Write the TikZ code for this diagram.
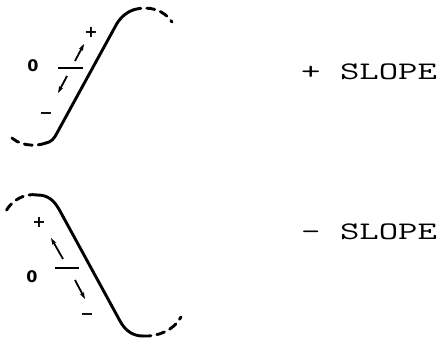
\documentclass[tikz,border=0pt]{standalone}
\usepackage{fontspec}
\usepackage{graphicx}
\usetikzlibrary{arrows.meta}
\newfontfamily\labfont{DejaVu Sans}
\newcommand{\slopetext}[1]{\scalebox{1.57}[1.05]{\ttfamily\fontsize{24}{28}\selectfont #1}}
\begin{document}
\begin{tikzpicture}[x=1pt,y=-1pt,
  solidcurve/.style={line width=2.9pt,line cap=round},
  dashcurve/.style={line width=2.9pt,dash pattern=on 8pt off 6pt,line cap=round},
  zeroline/.style={line width=2pt},
  sarrow/.style={line width=1.8pt,-{Stealth[length=7pt,width=4.5pt]}},
  lab/.style={inner sep=0pt,font=\labfont\bfseries\fontsize{16}{18}\selectfont},
  slope/.style={inner sep=0pt,anchor=base west}]
\path[use as bounding box] (0,0) rectangle (439,347);
% ---- top figure (+ slope)
\draw[dashcurve] (46,143) .. controls (35,147) and (18,146) .. (9,135);
\draw[solidcurve] (46,143) .. controls (51,142) and (54,139) .. (57,133) -- (115,27) .. controls (119,19) and (125,13) .. (133,10);
\draw[dashcurve] (133,10) .. controls (149,5) and (164,10) .. (172,22);
\node[lab] (z1) at (33,66) {0};
\node[lab] (p1) at (91,32) {+};
\node[lab] (m1) at (46,116) {−};
\coordinate (zl1) at (58,68);
\coordinate (zr1) at (83,68);
\draw[zeroline] (zl1) -- (zr1);
\coordinate (ua1) at (75,61);
\coordinate (ub1) at (84,44);
\coordinate (la1) at (67,76);
\coordinate (lb1) at (58,93);
\draw[sarrow] (ua1) -- (ub1);
\draw[sarrow] (la1) -- (lb1);
\node[slope] (t1) at (301,80) {\slopetext{+ SLOPE}};
% ---- bottom figure (- slope)
\draw[dashcurve] (37,195) .. controls (25,193) and (12,200) .. (6,211);
\draw[solidcurve] (37,195) .. controls (48,195) and (54,200) .. (60,211) -- (120,321) .. controls (126,332) and (134,336) .. (143,336);
\draw[dashcurve] (143,336) .. controls (158,337) and (174,330) .. (181,317);
\node[lab] (p2) at (39,222) {+};
\node[lab] (z2) at (32,277) {0};
\node[lab] (m2) at (87,317) {−};
\coordinate (zl2) at (55,268);
\coordinate (zr2) at (79,268);
\draw[zeroline] (zl2) -- (zr2);
\coordinate (ua2) at (63,259);
\coordinate (ub2) at (51,238);
\coordinate (la2) at (75,280);
\coordinate (lb2) at (85,299);
\draw[sarrow] (ua2) -- (ub2);
\draw[sarrow] (la2) -- (lb2);
\node[slope] (t2) at (301,240) {\slopetext{- SLOPE}};
\end{tikzpicture}
\end{document}
